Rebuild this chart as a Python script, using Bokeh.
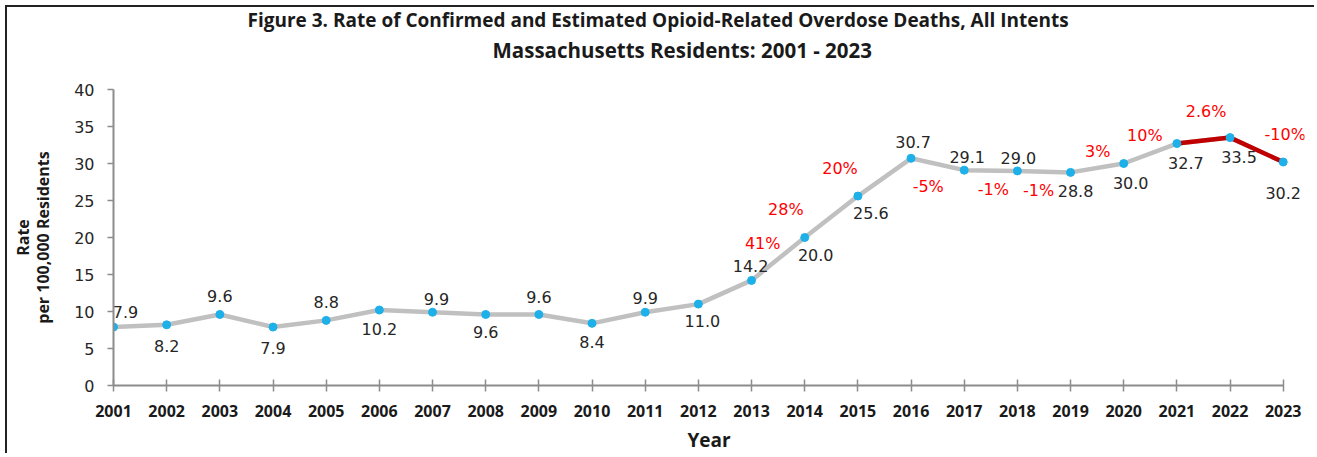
from bokeh.plotting import figure
from bokeh.models import ColumnDataSource, Range1d, FixedTicker, Title
from bokeh.core.properties import value
from bokeh.embed import file_html
from bokeh.resources import INLINE

# ---- data ----
years = list(range(2001, 2024))
rates = [7.9, 8.2, 9.6, 7.9, 8.8, 10.2, 9.9, 9.6, 9.6, 8.4, 9.9, 11.0,
         14.2, 20.0, 25.6, 30.7, 29.1, 29.0, 28.8, 30.0, 32.7, 33.5, 30.2]
rate_labels = [f"{r:.1f}" for r in rates]
change_years = [2014, 2015, 2016, 2017, 2018, 2019, 2020, 2021, 2022, 2023]
change_labels = ["41%", "28%", "20%", "-5%", "-1%", "-1%", "3%", "10%", "2.6%", "-10%"]
highlight_years = [2021, 2022, 2023]
y_ticks = [0, 5, 10, 15, 20, 25, 30, 35, 40]
title_line1 = "Figure 3. Rate of Confirmed and Estimated Opioid-Related Overdose Deaths, All Intents"
title_line2 = "Massachusetts Residents: 2001 - 2023"

# ---- label placement (pixel offsets, styling only) ----
val_dx = [12, 0, 0, 0, 0, 0, 4, 0, 0, 0, 0, 4, -1, 11, 13, 2, 3, 1, 5, 7, 9, 9, 0]
val_dy = [-15, 21, -18, 21, -18, 19, -13, 18, -17, 19, -14, 17, -14, 17, 17, -16, -13, -13, 19, 19, 19, 19, 31]
chg_dx = [-42, -72, -71, -36, -24, -32, -26, -32, -24, 2]
chg_dy = [6, 13, 10, 16, 19, 18, -12, -8, -26, -28]

rate_of = dict(zip(years, rates))

FONT = "Open Sans"
LFONT = "DejaVu Sans"

p = figure(width=1309, height=448, output_backend="svg", toolbar_location=None,
           x_range=Range1d(2001, 2023.4), y_range=Range1d(0, 40),
           min_border_left=106, min_border_right=12, min_border_top=81,
           min_border_bottom=70)
p.styles = {"margin-left": "5px", "margin-top": "5px", "vertical-align": "top",
            "border-left": "2px solid #222", "border-top": "2px solid #222"}
p.outline_line_color = None
p.grid.visible = False
p.background_fill_color = "white"
p.border_fill_color = "white"

# title lines (the later-added one sits further from the plot)
p.add_layout(Title(text=title_line2, align="left", offset=379, standoff=52,
                   text_font=FONT, text_font_size="20.5px", text_font_style="bold",
                   text_color="#1a1a1a"), "above")
p.add_layout(Title(text=title_line1, align="left", offset=134, standoff=-50,
                   text_font=FONT, text_font_size="19px", text_font_style="bold",
                   text_color="#1a1a1a"), "above")

src = ColumnDataSource(dict(x=years, y=rates, lab=rate_labels, dx=val_dx, dy=val_dy))
hl = ColumnDataSource(dict(x=highlight_years, y=[rate_of[y] for y in highlight_years]))
chg = ColumnDataSource(dict(x=change_years, y=[rate_of[y] for y in change_years],
                            lab=change_labels, dx=chg_dx, dy=chg_dy))

p.line("x", "y", source=src, line_color="#C0C0C0", line_width=4.5)
p.line("x", "y", source=hl, line_color="#C00000", line_width=4.5)
p.scatter("x", "y", source=src, size=8, fill_color="#1DB0E9", line_color="#1DB0E9")

p.text("x", "y", text="lab", source=src, x_offset="dx", y_offset="dy",
       text_align="center", text_baseline="middle", text_font=value(LFONT),
       text_font_size="16px", text_color="#262626")
p.text("x", "y", text="lab", source=chg, x_offset="dx", y_offset="dy",
       text_align="center", text_baseline="middle", text_font=value(LFONT),
       text_font_size="16px", text_color="#FF0000")

# x axis
xa = p.xaxis[0]
xa.bounds = (2001, 2023)
xa.ticker = FixedTicker(ticks=years)
xa.minor_tick_line_color = None
xa.major_tick_in = 6
xa.major_tick_out = 6
xa.axis_line_color = "#8C8C8C"
xa.axis_line_width = 2
xa.major_tick_line_color = "#8C8C8C"
xa.major_tick_line_width = 1.5
xa.major_label_text_font = FONT
xa.major_label_text_font_size = "16px"
xa.major_label_text_font_style = "bold"
xa.major_label_text_color = "#1a1a1a"
xa.major_label_standoff = 13
xa.axis_label = "Year"
xa.axis_label_text_font = FONT
xa.axis_label_text_font_size = "19px"
xa.axis_label_text_font_style = "bold"
xa.axis_label_text_color = "#1a1a1a"
xa.axis_label_standoff = 7

# y axis
ya = p.yaxis[0]
ya.bounds = (0, 40)
ya.ticker = FixedTicker(ticks=y_ticks)
ya.minor_tick_line_color = None
ya.major_tick_in = 0
ya.major_tick_out = 6
ya.axis_line_color = "#8C8C8C"
ya.axis_line_width = 2
ya.major_tick_line_color = "#8C8C8C"
ya.major_tick_line_width = 1.5
ya.major_label_text_font = LFONT
ya.major_label_text_font_size = "16px"
ya.major_label_text_color = "#262626"
ya.major_label_standoff = 13
ya.axis_label = "Rate\nper 100,000 Residents"
ya.axis_label_text_font = FONT
ya.axis_label_text_font_size = "16px"
ya.axis_label_text_font_style = "bold"
ya.axis_label_text_color = "#1a1a1a"
ya.axis_label_text_line_height = 0.92
ya.axis_label_standoff = 17

open("out.html", "w").write(file_html(p, INLINE))
